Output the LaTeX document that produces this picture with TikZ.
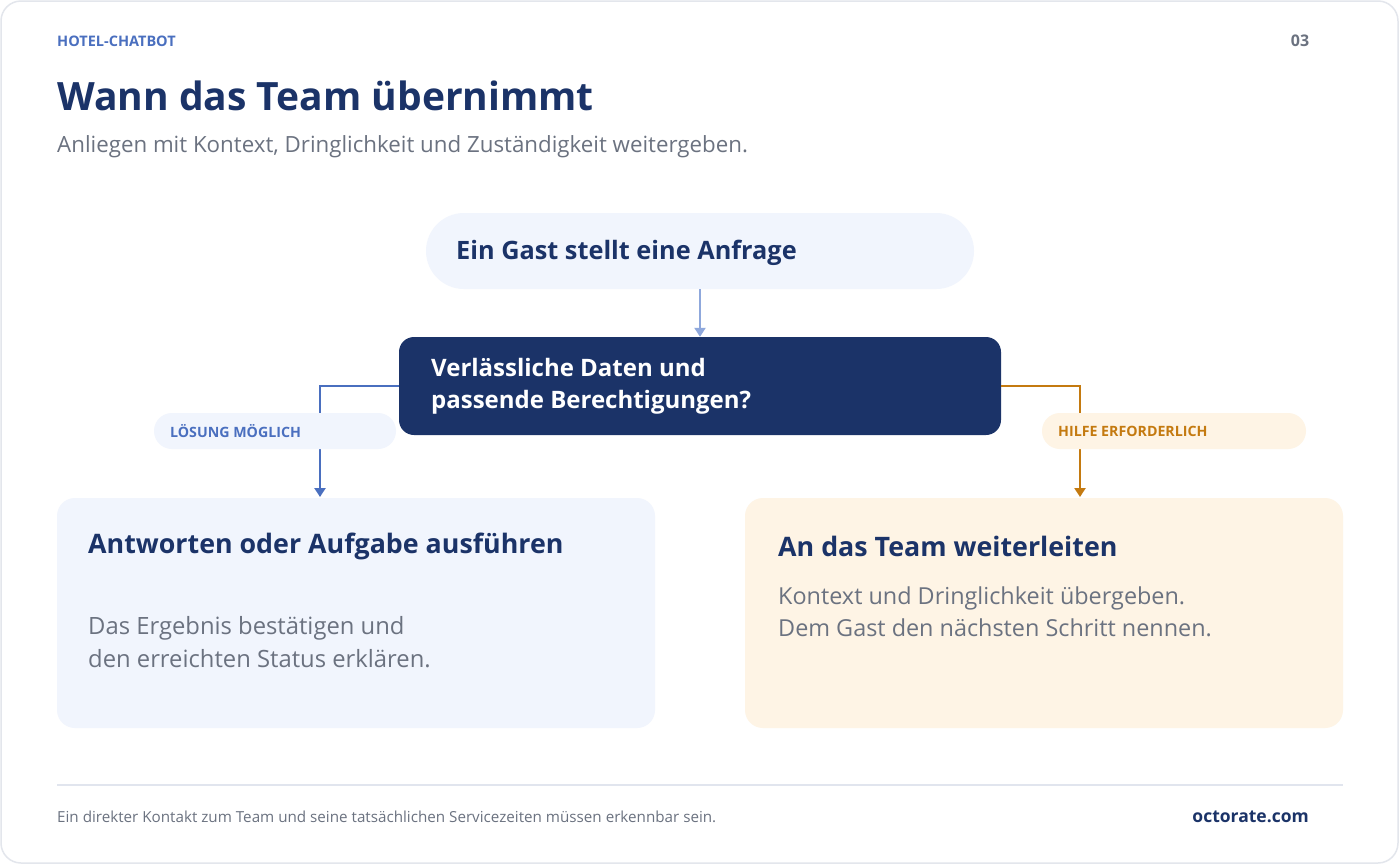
\documentclass[tikz,border=0pt]{standalone}
\usepackage{fontspec}
\setmainfont{Open Sans}
\usetikzlibrary{arrows.meta}
\definecolor{navy}{HTML}{1B3368}
\definecolor{midblue}{HTML}{4A6FBF}
\definecolor{lightblue}{HTML}{8FA8DC}
\definecolor{paleblue}{HTML}{F1F5FD}
\definecolor{amber}{HTML}{C47A10}
\definecolor{paleamber}{HTML}{FEF4E5}
\definecolor{greytext}{HTML}{6B7280}
\definecolor{cardline}{HTML}{E3E6EC}
\definecolor{rulecol}{HTML}{E1E5EE}
\tikzset{
  txt/.style={inner sep=0pt, anchor=west},
  box/.style={draw=none, rectangle, inner sep=0pt},
  conn/.style={line width=2.5pt, -{Triangle[width=11pt,length=9pt]}},
}
\begin{document}
\begin{tikzpicture}[x=1pt,y=-1pt]
\useasboundingbox (0,0) rectangle (1400,865);
\fill[white] (0,0) rectangle (1400,865);
\draw[cardline, line width=1.5pt, rounded corners=20pt] (1,1) rectangle (1398,863);

% header
\node[txt, text=midblue, font=\bfseries\fontsize{14.5}{16}\selectfont] (kicker) at (57,41) {HOTEL-CHATBOT};
\node[inner sep=0pt, text=greytext, font=\bfseries\fontsize{16}{18}\selectfont] (pnum) at (1300,41) {03};
\node[txt, text=navy, font=\bfseries\fontsize{39}{44}\selectfont] (title) at (57,96) {Wann das Team übernimmt};
\node[txt, text=greytext, font=\fontsize{22.3}{26}\selectfont] (subtitle) at (57,147) {Anliegen mit Kontext, Dringlichkeit und Zuständigkeit weitergeben.};

% top node
\node[box, fill=paleblue, rounded corners=38pt, minimum width=548pt, minimum height=76pt] (top) at (700,251) {};
\node[txt, text=navy, font=\bfseries\fontsize{25.3}{29}\selectfont] (toptxt) at (456,253) {Ein Gast stellt eine Anfrage};

% decision node
\node[box, fill=navy, rounded corners=15pt, minimum width=602pt, minimum height=98pt] (dec) at (700,386) {};
\node[txt, text=white, font=\bfseries\fontsize{24}{32}\selectfont, align=left] (dectxt) at (431,386) {Verlässliche Daten und\\passende Berechtigungen?};

% result boxes
\node[box, fill=paleblue, rounded corners=18pt, minimum width=598pt, minimum height=230pt] (leftbox) at (356,613) {};
\node[box, fill=paleamber, rounded corners=18pt, minimum width=598pt, minimum height=230pt] (rightbox) at (1044,613) {};

\coordinate (lin) at (320,497);
\coordinate (rin) at (1080,497);

% connectors
\draw[conn, lightblue] (top.south) -- (dec.north);
\draw[conn, midblue] (dec.west) -| (lin);
\draw[conn, amber] (dec.east) -| (rin);

% labels
\node[box, fill=paleblue, rounded corners=18pt, minimum width=242pt, minimum height=36pt] (lpill) at (275,431) {};
\node[txt, text=midblue, font=\bfseries\fontsize{14.2}{16}\selectfont] (ltxt) at (170,431) {LÖSUNG MÖGLICH};
\node[box, fill=paleamber, rounded corners=18pt, minimum width=264pt, minimum height=36pt] (rpill) at (1174,431) {};
\node[txt, text=amber, font=\bfseries\fontsize{14.2}{16}\selectfont] (rtxt) at (1058,431) {HILFE ERFORDERLICH};

% box texts
\node[txt, text=navy, font=\bfseries\fontsize{26.8}{31}\selectfont] (lhead) at (88,546) {Antworten oder Aufgabe ausführen};
\node[txt, text=greytext, font=\fontsize{23.8}{33}\selectfont, align=left] (lbody) at (88,642) {Das Ergebnis bestätigen und\\den erreichten Status erklären.};
\node[txt, text=navy, font=\bfseries\fontsize{26.8}{31}\selectfont] (rhead) at (778,546) {An das Team weiterleiten};
\node[txt, text=greytext, font=\fontsize{23.4}{32}\selectfont, align=left] (rbody) at (778,612) {Kontext und Dringlichkeit übergeben.\\Dem Gast den nächsten Schritt nennen.};

% footer
\draw[rulecol, line width=2pt] (57,785) -- (1343,785);
\node[txt, text=greytext, font=\fontsize{15.2}{18}\selectfont] (foot) at (57,817) {Ein direkter Kontakt zum Team und seine tatsächlichen Servicezeiten müssen erkennbar sein.};
\node[inner sep=0pt, anchor=east, text=navy, font=\bfseries\fontsize{17.5}{20}\selectfont] (brand) at (1309,817) {octorate.com};
\end{tikzpicture}
\end{document}
